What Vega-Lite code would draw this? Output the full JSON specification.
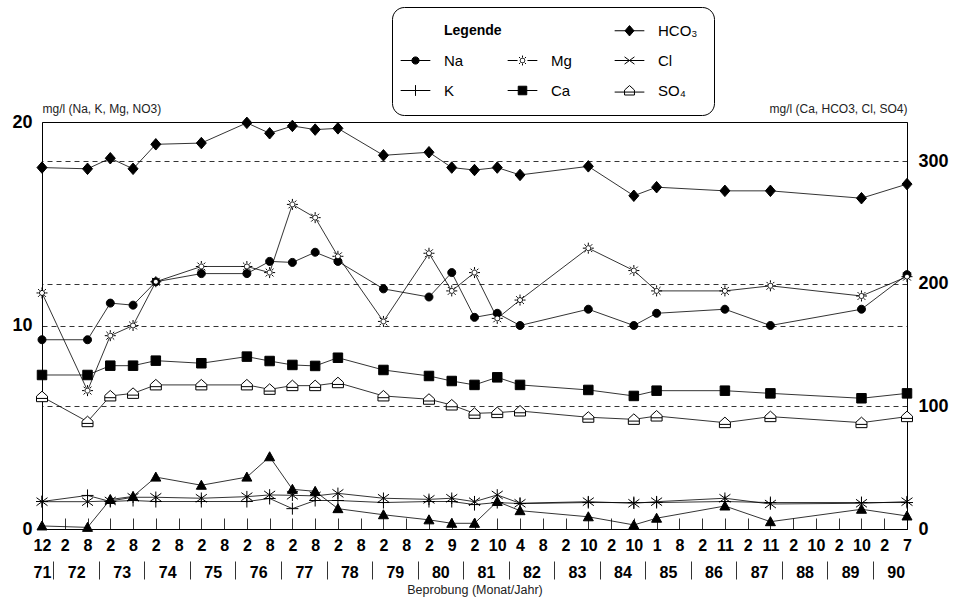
{
  "$schema": "https://vega.github.io/schema/vega-lite/v6.json",
  "width": 865,
  "height": 407,
  "autosize": {"type": "none"},
  "padding": {"left": 42, "top": 122, "right": 56, "bottom": 71},
  "background": "white",
  "config": {
    "font": "Liberation Sans",
    "view": {"stroke": "black", "strokeWidth": 1},
    "axis": {"labelColor": "black", "titleColor": "#222", "domain": false, "grid": false, "labelFlush": false, "labelOverlap": false, "labelBound": false}
  },
  "data": {
    "values": [
      {"i": 0, "probe": "12/71", "Na": 9.3, "K": 1.35, "Mg": 11.6, "NO3": 0.15, "Ca": 125.7, "HCO3": 295, "Cl": 22.3, "SO4": 108},
      {"i": 2, "probe": "8/72", "Na": 9.3, "K": 1.65, "Mg": 6.8, "NO3": 0.08, "Ca": 125.7, "HCO3": 294, "Cl": 22.3, "SO4": 87.6},
      {"i": 3, "probe": "2/73", "Na": 11.1, "K": 1.35, "Mg": 9.5, "NO3": 1.45, "Ca": 133.3, "HCO3": 302.6, "Cl": 22.9, "SO4": 108.6},
      {"i": 4, "probe": "8/73", "Na": 11.0, "K": 1.4, "Mg": 10.0, "NO3": 1.6, "Ca": 133.3, "HCO3": 294, "Cl": 25.9, "SO4": 110.7},
      {"i": 5, "probe": "2/74", "Na": 12.15, "K": 1.35, "Mg": 12.15, "NO3": 2.55, "Ca": 137.4, "HCO3": 314, "Cl": 25.9, "SO4": 117.6},
      {"i": 7, "probe": "2/75", "Na": 12.55, "K": 1.35, "Mg": 12.9, "NO3": 2.15, "Ca": 135.3, "HCO3": 315, "Cl": 25.1, "SO4": 117.6},
      {"i": 9, "probe": "2/76", "Na": 12.55, "K": 1.35, "Mg": 12.9, "NO3": 2.55, "Ca": 140.7, "HCO3": 331.5, "Cl": 26.4, "SO4": 117.6},
      {"i": 10, "probe": "8/76", "Na": 13.15, "K": 1.5, "Mg": 12.6, "NO3": 3.55, "Ca": 137.1, "HCO3": 323, "Cl": 27.8, "SO4": 114},
      {"i": 11, "probe": "2/77", "Na": 13.1, "K": 1.0, "Mg": 15.95, "NO3": 1.95, "Ca": 133.9, "HCO3": 329, "Cl": 27.5, "SO4": 117},
      {"i": 12, "probe": "8/77", "Na": 13.6, "K": 1.4, "Mg": 15.3, "NO3": 1.85, "Ca": 133.1, "HCO3": 326, "Cl": 27.0, "SO4": 117},
      {"i": 13, "probe": "2/78", "Na": 13.15, "K": 1.4, "Mg": 13.4, "NO3": 1.0, "Ca": 139.8, "HCO3": 327, "Cl": 29.1, "SO4": 119.4},
      {"i": 15, "probe": "2/79", "Na": 11.8, "K": 1.3, "Mg": 10.2, "NO3": 0.7, "Ca": 129.8, "HCO3": 305, "Cl": 25.1, "SO4": 108.6},
      {"i": 17, "probe": "2/80", "Na": 11.4, "K": 1.35, "Mg": 13.55, "NO3": 0.45, "Ca": 124.9, "HCO3": 307.5, "Cl": 24.2, "SO4": 105.9},
      {"i": 18, "probe": "9/80", "Na": 12.6, "K": 1.35, "Mg": 11.7, "NO3": 0.28, "Ca": 120.8, "HCO3": 295, "Cl": 25.1, "SO4": 101.2},
      {"i": 19, "probe": "2/81", "Na": 10.4, "K": 1.2, "Mg": 12.6, "NO3": 0.28, "Ca": 117.6, "HCO3": 293, "Cl": 22.3, "SO4": 94.4},
      {"i": 20, "probe": "10/81", "Na": 10.6, "K": 1.3, "Mg": 10.35, "NO3": 1.35, "Ca": 123.8, "HCO3": 295, "Cl": 27.8, "SO4": 95},
      {"i": 21, "probe": "4/82", "Na": 10.0, "K": 1.25, "Mg": 11.25, "NO3": 0.9, "Ca": 117.6, "HCO3": 289, "Cl": 21, "SO4": 96.3},
      {"i": 24, "probe": "10/83", "Na": 10.8, "K": 1.3, "Mg": 13.8, "NO3": 0.6, "Ca": 113.5, "HCO3": 296, "Cl": 22.3, "SO4": 91.2},
      {"i": 26, "probe": "10/84", "Na": 10.0, "K": 1.3, "Mg": 12.7, "NO3": 0.2, "Ca": 108.6, "HCO3": 272, "Cl": 21, "SO4": 89.5},
      {"i": 27, "probe": "1/85", "Na": 10.6, "K": 1.3, "Mg": 11.7, "NO3": 0.53, "Ca": 112.9, "HCO3": 279, "Cl": 22.3, "SO4": 92.2},
      {"i": 30, "probe": "11/86", "Na": 10.8, "K": 1.35, "Mg": 11.7, "NO3": 1.13, "Ca": 112.9, "HCO3": 276, "Cl": 25.1, "SO4": 86.8},
      {"i": 32, "probe": "11/87", "Na": 10.0, "K": 1.3, "Mg": 11.95, "NO3": 0.36, "Ca": 110.7, "HCO3": 276, "Cl": 20.4, "SO4": 91.7},
      {"i": 36, "probe": "10/89", "Na": 10.8, "K": 1.3, "Mg": 11.45, "NO3": 0.97, "Ca": 106.7, "HCO3": 270, "Cl": 21, "SO4": 86.8},
      {"i": 38, "probe": "7/90", "Na": 12.5, "K": 1.3, "Mg": 12.4, "NO3": 0.64, "Ca": 110.7, "HCO3": 281.5, "Cl": 22.3, "SO4": 91.7}
    ]
  },
  "resolve": {"scale": {"y": "independent", "shape": "independent", "fill": "independent"}, "axis": {"x": "independent", "y": "independent"}},
  "layer": [
    {
      "transform": [{"fold": ["Na", "K", "Mg", "NO3"], "as": ["param", "wert"]}],
      "mark": {"type": "line", "strokeWidth": 0.8, "color": "black"},
      "encoding": {
        "x": {
          "field": "i", "type": "quantitative",
          "scale": {"domain": [0, 38], "nice": false, "zero": false},
          "axis": {
            "orient": "bottom",
            "values": [0,1,2,3,4,5,6,7,8,9,10,11,12,13,14,15,16,17,18,19,20,21,22,23,24,25,26,27,28,29,30,31,32,33,34,35,36,37,38],
            "labelExpr": "['12','2','8','2','8','2','8','2','8','2','8','2','8','2','8','2','8','2','9','2','10','4','8','2','10','2','10','1','8','2','11','2','11','2','10','2','10','2','7'][datum.value]",
            "labelFontSize": 16, "labelFontWeight": "bold", "labelPadding": 19,
            "ticks": true, "tickSize": -11, "tickColor": "black", "tickWidth": 0.8,
            "title": null
          }
        },
        "y": {
          "field": "wert", "type": "quantitative",
          "scale": {"domain": [0, 20], "nice": false, "zero": true},
          "axis": {
            "orient": "left", "values": [0, 10, 20],
            "labelFontSize": 18, "labelFontWeight": "bold", "labelPadding": 10,
            "ticks": false, "grid": true, "gridDash": [5, 4], "gridColor": "black", "gridWidth": 0.8,
            "title": "mg/l (Na, K, Mg, NO3)", "titleAngle": 0, "titleX": 0, "titleY": -14,
            "titleAlign": "left", "titleBaseline": "middle", "titleFontSize": 12, "titleFontWeight": "normal"
          }
        },
        "detail": {"field": "param"}
      }
    },
    {
      "transform": [{"fold": ["Ca", "HCO3", "Cl", "SO4"], "as": ["param", "wert"]}],
      "mark": {"type": "line", "strokeWidth": 0.8, "color": "black"},
      "encoding": {
        "x": {
          "field": "i", "type": "quantitative",
          "scale": {"domain": [0, 38], "nice": false, "zero": false},
          "axis": {
            "orient": "bottom",
            "values": [0, 1.5, 3.5, 5.5, 7.5, 9.5, 11.5, 13.5, 15.5, 17.5, 19.5, 21.5, 23.5, 25.5, 27.5, 29.5, 31.5, 33.5, 35.5, 37.5],
            "labelExpr": "datum.value < 1 ? '71' : '' + (72 + round((datum.value - 1.5) / 2))",
            "labelFontSize": 16, "labelFontWeight": "bold", "labelPadding": 35,
            "ticks": false,
            "title": "Beprobung (Monat/Jahr)", "titleFontSize": 12.5, "titleFontWeight": "normal", "titlePadding": 3
          }
        },
        "y": {
          "field": "wert", "type": "quantitative",
          "scale": {"domain": [0, 332.2], "nice": false, "zero": true},
          "axis": {
            "orient": "right", "values": [0, 100, 200, 300],
            "labelFontSize": 18, "labelFontWeight": "bold", "labelPadding": 11,
            "ticks": false, "grid": true, "gridDash": [5, 4], "gridColor": "black", "gridWidth": 0.8,
            "title": "mg/l (Ca, HCO3, Cl, SO4)", "titleAngle": 0, "titleX": 0, "titleY": -14,
            "titleAlign": "right", "titleBaseline": "middle", "titleFontSize": 12, "titleFontWeight": "normal"
          }
        },
        "detail": {"field": "param"}
      }
    },
    {
      "transform": [{"fold": ["Na", "K", "Mg", "NO3"], "as": ["param", "wert"]}],
      "mark": {"type": "point", "filled": true, "stroke": "black", "strokeWidth": 1, "opacity": 1, "size": 100},
      "encoding": {
        "x": {
          "field": "i", "type": "quantitative",
          "scale": {"domain": [0, 38], "nice": false, "zero": false},
          "axis": {
            "orient": "bottom",
            "values": [0.5, 2.5, 4.5, 6.5, 8.5, 10.5, 12.5, 14.5, 16.5, 18.5, 20.5, 22.5, 24.5, 26.5, 28.5, 30.5, 32.5, 34.5, 36.5],
            "labels": false, "ticks": true, "tickSize": 18, "offset": 32, "tickColor": "#333", "tickWidth": 1,
            "title": null
          }
        },
        "y": {"field": "wert", "type": "quantitative", "scale": {"domain": [0, 20], "nice": false, "zero": true}, "axis": null},
        "shape": {
          "field": "param", "type": "nominal",
          "scale": {
            "domain": ["Na", "K", "Mg", "NO3"],
            "range": [
              "M-0.8,0A0.8,0.8 0 1,0 0.8,0A0.8,0.8 0 1,0 -0.8,0Z",
              "M-1.2,0H1.2M0,-1.2V1.2",
              "M-0.5,0A0.5,0.5 0 1,0 0.5,0A0.5,0.5 0 1,0 -0.5,0ZM0,-0.65V-1.1M0,0.65V1.1M-0.65,0H-1.1M0.65,0H1.1M0.46,0.46L0.78,0.78M-0.46,0.46L-0.78,0.78M0.46,-0.46L0.78,-0.78M-0.46,-0.46L-0.78,-0.78",
              "M0,-1L1,0.8H-1Z"
            ]
          },
          "legend": null
        },
        "fill": {
          "field": "param", "type": "nominal",
          "scale": {"domain": ["Na", "K", "Mg", "NO3"], "range": ["black", "black", "white", "black"]},
          "legend": null
        }
      }
    },
    {
      "transform": [{"fold": ["Ca", "HCO3", "Cl", "SO4"], "as": ["param", "wert"]}],
      "mark": {"type": "point", "filled": true, "stroke": "black", "strokeWidth": 1, "opacity": 1, "size": 100},
      "encoding": {
        "x": {"field": "i", "type": "quantitative", "scale": {"domain": [0, 38], "nice": false, "zero": false}, "axis": null},
        "y": {"field": "wert", "type": "quantitative", "scale": {"domain": [0, 332.2], "nice": false, "zero": true}, "axis": null},
        "shape": {
          "field": "param", "type": "nominal",
          "scale": {
            "domain": ["Ca", "HCO3", "Cl", "SO4"],
            "range": [
              "M-0.95,-0.95H0.95V0.95H-0.95Z",
              "M0,-1.15L1,0L0,1.15L-1,0Z",
              "M-1.1,-0.8L1.1,0.8M-1.1,0.8L1.1,-0.8M0,-1.15V1.15",
              "M-1.1,1V-0.1L0,-1.1L1.1,-0.1V1ZM-1.1,0.35H1.1"
            ]
          },
          "legend": null
        },
        "fill": {
          "field": "param", "type": "nominal",
          "scale": {"domain": ["Ca", "HCO3", "Cl", "SO4"], "range": ["black", "black", "black", "white"]},
          "legend": null
        }
      }
    },
    {
      "transform": [
        {"fold": ["HCO3", "Na", "Mg", "Cl", "K", "Ca", "SO4"], "as": ["param", "wert"]},
        {"filter": "datum.i < 0"}
      ],
      "mark": {"type": "point", "filled": true, "stroke": "black", "strokeWidth": 1, "opacity": 1, "size": 81},
      "encoding": {
        "x": {"field": "i", "type": "quantitative", "scale": {"domain": [0, 38], "nice": false, "zero": false}, "axis": null},
        "y": {"field": "wert", "type": "quantitative", "scale": {"domain": [0, 20], "nice": false, "zero": true}, "axis": null},
        "shape": {
          "field": "param", "type": "nominal",
          "scale": {
            "domain": ["Legende", "leer", "HCO3", "Na", "Mg", "Cl", "K", "Ca", "SO4"],
            "range": [
              "M0,0",
              "M0,0",
              "M-3.3,0H3.3M0,-1.15L1,0L0,1.15L-1,0Z",
              "M-3.3,0H3.3M-0.8,0A0.8,0.8 0 1,0 0.8,0A0.8,0.8 0 1,0 -0.8,0Z",
              "M-3.3,0H-1.1M1.1,0H3.3M-0.5,0A0.5,0.5 0 1,0 0.5,0A0.5,0.5 0 1,0 -0.5,0ZM0,-0.65V-1.1M0,0.65V1.1M0.46,0.46L0.78,0.78M-0.46,0.46L-0.78,0.78M0.46,-0.46L0.78,-0.78M-0.46,-0.46L-0.78,-0.78",
              "M-3.3,0H3.3M-1.1,-0.8L1.1,0.8M-1.1,0.8L1.1,-0.8",
              "M-3.3,0H3.3M0,-1.2V1.2",
              "M-3.3,0H3.3M-0.95,-0.95H0.95V0.95H-0.95Z",
              "M-3.3,0.35H-1.1M1.1,0.35H3.3M-1.1,1V-0.1L0,-1.1L1.1,-0.1V1ZM-1.1,0.35H1.1"
            ]
          },
          "legend": {
            "orient": "none", "legendX": 350, "legendY": -115, "direction": "horizontal",
            "title": null,
            "values": ["Legende", "leer", "HCO3", "Na", "Mg", "Cl", "K", "Ca", "SO4"],
            "columns": 3, "gridAlign": "all", "columnPadding": 3, "rowPadding": 14,
            "symbolSize": 81, "symbolStrokeWidth": 1, "symbolStrokeColor": "black", "symbolOpacity": 1,
            "labelFont": "Liberation Sans", "labelFontSize": 15, "labelColor": "black", "labelOffset": 21,
            "labelExpr": "datum.value == 'HCO3' ? 'HCO₃' : datum.value == 'SO4' ? 'SO₄' : datum.value == 'leer' ? '' : datum.value",
            "padding": 16, "strokeColor": "black", "cornerRadius": 12, "fillColor": "white",
            "encoding": {
              "symbols": {
                "fill": {"value": {"expr": "datum.value == 'Mg' || datum.value == 'SO4' ? 'white' : 'black'"}},
                "stroke": {"value": "black"},
                "strokeWidth": {"value": 1},
                "opacity": {"value": 1}
              },
              "labels": {
                "fontWeight": {"value": {"expr": "datum.value == 'Legende' ? 'bold' : 'normal'"}},
                "fontSize": {"value": {"expr": "datum.value == 'Legende' ? 14 : 15"}}
              }
            }
          }
        }
      }
    }
  ]
}
